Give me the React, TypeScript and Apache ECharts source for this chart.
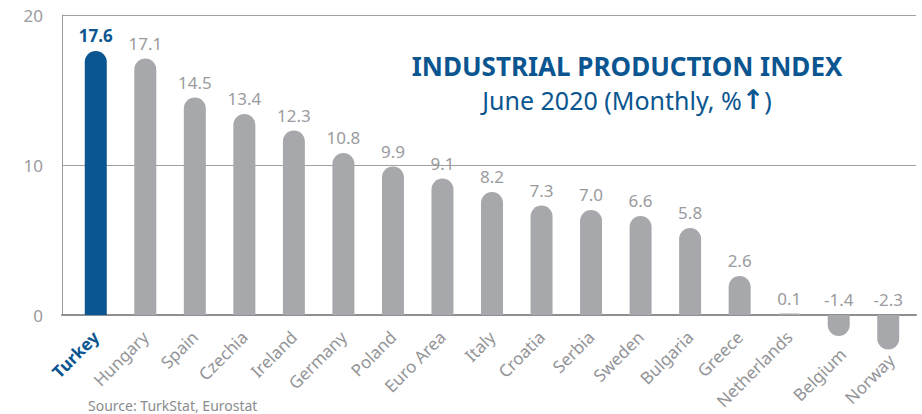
import React, { useEffect, useRef } from "react";
import * as echarts from "echarts";

const countries = ["Turkey", "Hungary", "Spain", "Czechia", "Ireland", "Germany", "Poland", "Euro Area", "Italy", "Croatia", "Serbia", "Sweden", "Bulgaria", "Greece", "Netherlands", "Belgium", "Norway"];
const values = [17.6, 17.1, 14.5, 13.4, 12.3, 10.8, 9.9, 9.1, 8.2, 7.3, 7.0, 6.6, 5.8, 2.6, 0.1, -1.4, -2.3];
const highlight = "Turkey";
const yTicks = { min: 0, max: 20, interval: 10 };

const BLUE = "#0b5690";
const GRAY = "#a7a8ab";
const LABEL = "#9a9b9e";
const FONT = "'Noto Sans', sans-serif";

export default function App() {
  const ref = useRef<HTMLDivElement>(null);
  useEffect(() => {
    document.body.style.margin = "0";
    const chart = echarts.init(ref.current!, null, { renderer: "svg" });
    const data = values.map((v, i) => {
      const isHi = countries[i] === highlight;
      return {
        value: v,
        itemStyle: {
          color: isHi ? BLUE : GRAY,
          borderRadius: v >= 0 ? [11, 11, 0, 0] : [0, 0, 11, 11],
        },
        label: isHi
          ? { color: BLUE, fontWeight: "bold", fontSize: 17 }
          : undefined,
      };
    });
    // push category labels of negative bars below the bar ends
    const catData = countries.map((c, i) => {
      const v = values[i];
      if (v >= 0) return c;
      const a = 9.5 + 3.9 * Math.abs(v);
      const b = 1.6 + 5.4 * Math.abs(v);
      return { value: c, textStyle: { padding: [2 * a, b, 0, 0] } };
    });
    chart.setOption({
      animation: false,
      textStyle: { fontFamily: FONT },
      title: {
        text: "INDUSTRIAL PRODUCTION INDEX",
        subtext: "{n|June 2020 (Monthly, %}{a|↑}{n|)}",
        left: 622,
        top: 48,
        textAlign: "center",
        itemGap: 7,
        textStyle: { color: BLUE, fontSize: 26, fontWeight: "bold", fontFamily: FONT },
        subtextStyle: {
          color: BLUE,
          fontSize: 25,
          fontFamily: FONT,
          rich: {
            n: { color: BLUE, fontSize: 25, fontFamily: FONT },
            a: { color: BLUE, fontSize: 27, fontWeight: "bold", fontFamily: "'DejaVu Sans', sans-serif" },
          },
        },
      },
      grid: [
        { left: 62, right: 6, top: 15, bottom: 99 },
        { left: 71, right: 9, top: 15, bottom: 99 },
      ],
      xAxis: [
        {
          type: "value",
          gridIndex: 0,
          min: 0,
          max: 1,
          axisLine: { show: true, lineStyle: { color: "#8e8f92", width: 2 } },
          axisTick: { show: false },
          axisLabel: { show: false },
          splitLine: { show: false },
        },
        {
          type: "category",
          gridIndex: 1,
          data: catData,
          axisLine: { show: false },
          axisTick: { show: false },
          axisLabel: {
            rotate: 45,
            margin: 19,
            fontSize: 17,
            color: "#939497",
            fontFamily: FONT,
            formatter: (v: string) => (v === highlight ? `{b|${v}}` : v),
            rich: {
              b: { color: BLUE, fontWeight: "bold", fontSize: 17, fontFamily: FONT },
            },
          },
        },
      ],
      yAxis: [
        {
          type: "value",
          gridIndex: 0,
          min: yTicks.min,
          max: yTicks.max,
          interval: yTicks.interval,
          axisLine: { show: true, lineStyle: { color: "#9a9a9a", width: 1 } },
          axisTick: { show: false },
          axisLabel: { fontSize: 17, color: "#9a9b9e", margin: 19, fontFamily: FONT },
          splitLine: { show: true, lineStyle: { color: "#a0a0a0", width: 1 } },
        },
        {
          type: "value",
          gridIndex: 1,
          min: yTicks.min,
          max: yTicks.max,
          interval: yTicks.interval,
          show: false,
          splitLine: { show: false },
        },
      ],
      series: [
        {
          type: "bar",
          xAxisIndex: 1,
          yAxisIndex: 1,
          data,
          barWidth: 22,
          clip: false,
          label: {
            show: true,
            position: "top",
            distance: 7,
            fontSize: 17,
            color: LABEL,
            fontFamily: FONT,
            formatter: (p: any) => Number(p.value).toFixed(1),
          },
        },
      ],
      graphic: [
        {
          type: "text",
          left: 88,
          top: 398,
          style: { text: "Source: TurkStat, Eurostat", fill: "#8a8b8e", fontSize: 14, fontFamily: FONT },
        },
      ],
    });
    return () => chart.dispose();
  }, []);
  return <div ref={ref} style={{ width: 922, height: 414 }} />;
}
